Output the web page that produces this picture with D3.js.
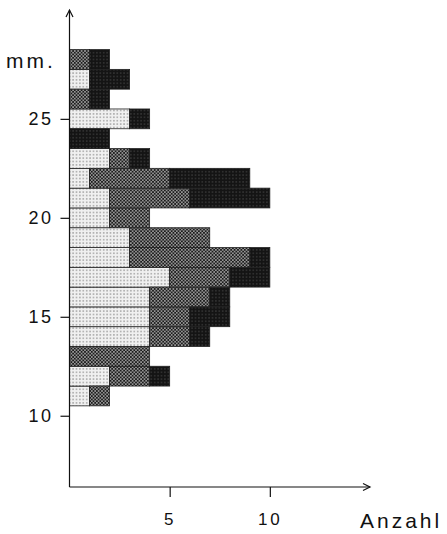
<!DOCTYPE html>
<html>
<head>
<meta charset="utf-8">
<script src="https://cdn.jsdelivr.net/npm/d3@7"></script>
<style>
  html, body { margin: 0; padding: 0; background: #fff; }
  svg { display: block; }
  text { font-family: "Liberation Sans", Arial, sans-serif; fill: #111; }
</style>
</head>
<body>
<svg id="chart" width="447" height="534"></svg>
<script>
// Size classes (mm) and counts per tone group
const sizes  = [11, 12, 13, 14, 15, 16, 17, 18, 19, 20, 21, 22, 23, 24, 25, 26, 27, 28];
const light  = [1, 2, 0, 4, 4, 4, 5, 3, 3, 2, 2, 1, 2, 0, 3, 0, 1, 0];
const medium = [1, 2, 4, 2, 2, 3, 3, 6, 4, 2, 4, 4, 1, 0, 0, 1, 0, 1];
const dark   = [0, 1, 0, 1, 2, 1, 2, 1, 0, 0, 4, 4, 1, 2, 1, 1, 2, 1];
const groups = ["light", "medium", "dark"];
const yTicks = [10, 15, 20, 25];
const xTicks = [5, 10];

const svg = d3.select("#chart");

// Screen-tone patterns
const defs = svg.append("defs");
function tone(id, bg, dot, r, step, offset) {
  const p = defs.append("pattern").attr("id", id)
    .attr("patternUnits", "userSpaceOnUse").attr("width", step).attr("height", step);
  p.append("rect").attr("width", step).attr("height", step).attr("fill", bg);
  p.append("circle").attr("cx", step / 2).attr("cy", step / 2).attr("r", r).attr("fill", dot);
  if (offset) {
    [[0, 0], [step, 0], [0, step], [step, step]].forEach(([cx, cy]) =>
      p.append("circle").attr("cx", cx).attr("cy", cy).attr("r", r).attr("fill", dot));
  }
}
tone("t-light", "#f0f0f0", "#959595", 0.75, 3.4, false);
tone("t-medium", "#1c1c1c", "#d0d0d0", 0.75, 3.4, true);
tone("t-dark", "#141414", "#3c3c3c", 0.75, 3.4, false);
const fills = { light: "url(#t-light)", medium: "url(#t-medium)", dark: "url(#t-dark)" };

const x = d3.scaleLinear().domain([0, 15]).range([69.5, 370]);
const y = d3.scaleLinear().domain([6.4, 30.5]).range([487, 10]);

const rows = sizes.map((s, i) => ({ size: s, light: light[i], medium: medium[i], dark: dark[i] }));
const stacked = d3.stack().keys(groups)(rows);

svg.append("g").selectAll("g").data(stacked).join("g")
  .attr("fill", d => fills[d.key])
  .selectAll("rect").data(d => d.filter(v => v[1] > v[0])).join("rect")
  .attr("x", d => x(d[0]))
  .attr("width", d => x(d[1]) - x(d[0]))
  .attr("y", d => y(d.data.size + 0.5))
  .attr("height", d => y(d.data.size - 0.5) - y(d.data.size + 0.5))
  .attr("stroke", "#222").attr("stroke-width", 0.8);

// Axes with arrowheads
const ax = svg.append("g").attr("stroke", "#111").attr("stroke-width", 1.2).attr("fill", "none");
ax.append("line").attr("x1", x(0)).attr("x2", x(0)).attr("y1", y(6.4)).attr("y2", y(30.5));
ax.append("line").attr("x1", x(0)).attr("x2", x(15)).attr("y1", y(6.4)).attr("y2", y(6.4));
ax.append("path").attr("d", `M${x(0) - 3.5},${y(30.5) + 7} L${x(0)},${y(30.5)} L${x(0) + 3.5},${y(30.5) + 7}`);
ax.append("path").attr("d", `M${x(15) - 7},${y(6.4) - 3.5} L${x(15)},${y(6.4)} L${x(15) - 7},${y(6.4) + 3.5}`);

const yAxis = d3.axisLeft(y).tickValues(yTicks).tickSize(9).tickPadding(7).tickFormat(d3.format("d"));
const gy = svg.append("g").attr("transform", `translate(${x(0)},0)`).call(yAxis);
gy.select(".domain").remove();
gy.selectAll("line").attr("stroke", "#111").attr("stroke-width", 1.2);
gy.selectAll("text").attr("font-size", 18).attr("letter-spacing", 2.5)
  .attr("font-family", "Liberation Sans, Arial, sans-serif").attr("fill", "#111");

const xAxis = d3.axisBottom(x).tickValues(xTicks).tickSize(10).tickPadding(16).tickFormat(d3.format("d"));
const gx = svg.append("g").attr("transform", `translate(0,${y(6.4)})`).call(xAxis);
gx.select(".domain").remove();
gx.selectAll("line").attr("stroke", "#111").attr("stroke-width", 1.2);
gx.selectAll("text").attr("font-size", 17).attr("letter-spacing", 3)
  .attr("font-family", "Liberation Sans, Arial, sans-serif").attr("fill", "#111");

svg.append("text").attr("x", 6).attr("y", 68).attr("font-size", 21).attr("letter-spacing", 3).text("mm.");
svg.append("text").attr("x", 360).attr("y", 528).attr("font-size", 21).attr("letter-spacing", 3).text("Anzahl");
</script>
</body>
</html>
